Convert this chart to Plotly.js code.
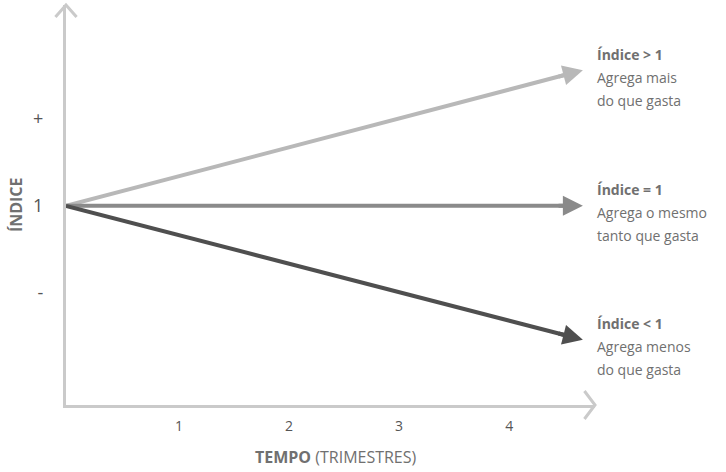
<!DOCTYPE html>
<html>
<head>
<meta charset="utf-8">
<script src="https://cdn.plot.ly/plotly-3.0.1.min.js"></script>
<style>body{margin:0;background:#fff}#chart{width:726px;height:472px}</style>
</head>
<body>
<div id="chart"></div>
<script>
// schematic lines: start at the origin (index 1), end near x=4.67
const x_start = -0.027;
const x_end = 4.67;
const y_start = 1;
const end_values = [2.56, 1, -0.54];
const line_colors = ['#b8b8b8', '#8a8a8a', '#4f4f4f'];
const label_titles = ['Índice > 1', 'Índice = 1', 'Índice < 1'];
const label_lines = [['Agrega mais', 'do que gasta'], ['Agrega o mesmo', 'tanto que gasta'], ['Agrega menos', 'do que gasta']];
const x_ticks = [1, 2, 3, 4];
const y_ticks = [2, 1, 0];
const y_tick_labels = ['+', '1', '-'];

const font_family = '"Open Sans", Lato, sans-serif';
const text_gray = '#707070';
const axis_gray = '#cacaca';

let chart_data = [];
let annotations = [];

end_values.forEach((v, i) => {
	// line body stops a little short so the arrow head covers the end
	const t = 0.97;
	chart_data.push({
		mode: 'lines',
		x: [x_start, x_start + (x_end - x_start) * t],
		y: [y_start, y_start + (v - y_start) * t],
		line: {color: line_colors[i], width: 4},
		hoverinfo: 'skip',
		showlegend: false
	});
	annotations.push({
		x: x_end, y: v, xref: 'x', yref: 'y',
		ax: x_start + (x_end - x_start) * 0.95, ay: y_start + (v - y_start) * 0.95,
		axref: 'x', ayref: 'y',
		showarrow: true, arrowhead: 2, arrowsize: 1, arrowwidth: 4,
		arrowcolor: line_colors[i], text: ''
	});
	const rows = ['<b>' + label_titles[i] + '</b>', ...label_lines[i]];
	rows.forEach((r, j) => {
		annotations.push({
			x: 4.78, y: v, xref: 'x', yref: 'y',
			xanchor: 'left', yanchor: 'middle', align: 'left', showarrow: false,
			yshift: 16 - j * 23,
			text: r,
			font: {family: font_family, size: 14, color: text_gray}
		});
	});
});

annotations.push({
	x: -0.1, y: 0.5, xref: 'paper', yref: 'paper', xshift: -10,
	text: '<b>ÍNDICE</b>', textangle: -90, showarrow: false,
	font: {family: font_family, size: 16, color: text_gray}
});
annotations.push({
	x: 0.51, y: -0.13, xref: 'paper', yref: 'paper', yanchor: 'middle',
	text: '<b>TEMPO</b> (TRIMESTRES)', showarrow: false,
	font: {family: font_family, size: 16, color: text_gray}
});

const chart_layout = {
	width: 726,
	height: 472,
	margin: {l: 66, r: 131, t: 5, b: 67},
	paper_bgcolor: '#fff',
	plot_bgcolor: '#fff',
	xaxis: {
		range: [-0.027, 4.78],
		tickvals: x_ticks,
		ticks: '', showgrid: false, zeroline: false,
		showline: true, linecolor: axis_gray, linewidth: 3,
		ticklabelstandoff: 6,
		tickfont: {family: font_family, size: 14, color: '#555'}
	},
	yaxis: {
		range: [-1.29, 3.31],
		tickvals: y_ticks, ticktext: y_tick_labels,
		ticks: '', showgrid: false, zeroline: false,
		showline: true, linecolor: axis_gray, linewidth: 3,
		ticklabelstandoff: 16,
		tickfont: {family: font_family, size: 18, color: '#555'}
	},
	shapes: [
		// open chevrons at the axis ends
		{type: 'path', xref: 'paper', yref: 'paper',
			path: 'M -0.02 0.97 L 0 1 L 0.02 0.97', line: {color: axis_gray, width: 3}},
		{type: 'path', xref: 'paper', yref: 'paper',
			path: 'M 0.98 0.035 L 1 0 L 0.98 -0.035', line: {color: axis_gray, width: 3}}
	],
	annotations: annotations,
	showlegend: false
};

Plotly.newPlot('chart', chart_data, chart_layout, {displayModeBar: false, staticPlot: true});
</script>
</body>
</html>
